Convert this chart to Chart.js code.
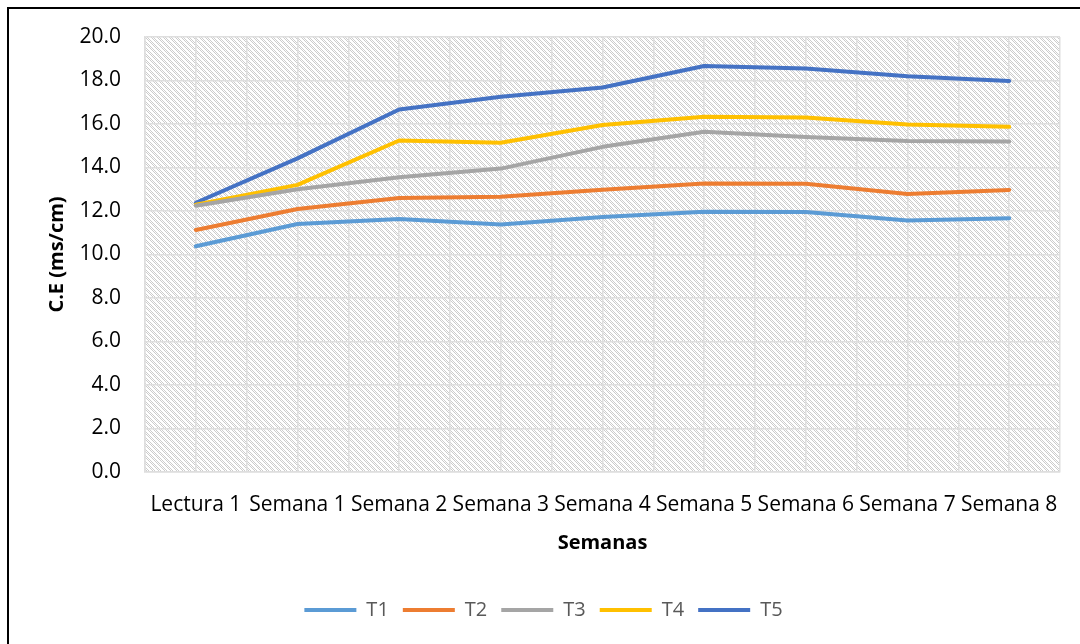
<!DOCTYPE html>
<html>
<head>
<meta charset="utf-8">
<script src="https://cdn.jsdelivr.net/npm/chart.js@4"></script>
<style>
  html, body { margin: 0; padding: 0; background: #ffffff; }
  #frame { position: absolute; left: 7px; top: 7px; width: 1200px; height: 800px; border: 2px solid #000; box-sizing: border-box; }
  #wrap { position: absolute; left: 0; top: 0; width: 1080px; height: 644px; }
</style>
</head>
<body>
<div id="frame"></div>
<div id="wrap"><canvas id="c" width="1080" height="644"></canvas></div>
<script>
const categories = ['Lectura 1', 'Semana 1', 'Semana 2', 'Semana 3', 'Semana 4', 'Semana 5', 'Semana 6', 'Semana 7', 'Semana 8'];
const seriesNames = ['T1', 'T2', 'T3', 'T4', 'T5'];
const t1 = [10.38, 11.40, 11.63, 11.38, 11.72, 11.96, 11.95, 11.56, 11.67];
const t2 = [11.13, 12.09, 12.60, 12.66, 12.98, 13.26, 13.25, 12.78, 12.97];
const t3 = [12.24, 13.00, 13.55, 13.95, 14.95, 15.64, 15.40, 15.22, 15.19];
const t4 = [12.29, 13.20, 15.24, 15.14, 15.95, 16.33, 16.30, 15.98, 15.87];
const t5 = [12.38, 14.42, 16.67, 17.25, 17.68, 18.67, 18.55, 18.19, 17.98];
const yTicks = [0, 2, 4, 6, 8, 10, 12, 14, 16, 18, 20];
const colors = ['#5B9BD5', '#ED7D31', '#A5A5A5', '#FFC000', '#4472C4'];
const allSeries = [t1, t2, t3, t4, t5];

function makePattern(ctx) {
  const tile = document.createElement('canvas');
  tile.width = 6; tile.height = 6;
  const t = tile.getContext('2d');
  t.fillStyle = '#ffffff';
  t.fillRect(0, 0, 6, 6);
  t.fillStyle = '#cccccc';
  for (let y = 0; y < 6; y++) {
    for (let x = 0; x < 6; x++) {
      const d = ((x - y) % 6 + 6) % 6;
      if (d < 3 && (x + y) % 2 === 0) t.fillRect(x, y, 1, 1);
    }
  }
  return ctx.createPattern(tile, 'repeat');
}

const bgPlugin = {
  id: 'bgPattern',
  afterLayout(chart) {
    if (chart.legend) { chart.legend.left += 13; chart.legend.right += 13; }
  },
  beforeDraw(chart) {
    const {ctx, chartArea} = chart;
    ctx.save();
    ctx.fillStyle = makePattern(ctx);
    ctx.fillRect(chartArea.left, chartArea.top, chartArea.right - chartArea.left, chartArea.bottom - chartArea.top);
    ctx.restore();
  }
};

const datasets = allSeries.map((vals, k) => ({
  label: seriesNames[k],
  data: vals.map((v, i) => ({x: i, y: v})),
  borderColor: colors[k],
  backgroundColor: colors[k],
  borderWidth: 4,
  borderCapStyle: 'round',
  borderJoinStyle: 'round',
  pointRadius: 0,
  pointHoverRadius: 0,
  pointStyle: 'line',
  tension: 0,
  fill: false
}));

new Chart(document.getElementById('c'), {
  type: 'line',
  data: { datasets },
  plugins: [bgPlugin],
  options: {
    responsive: false,
    animation: false,
    devicePixelRatio: 1,
    layout: { padding: { top: 37, right: 19, left: 0, bottom: 14 } },
    plugins: {
      tooltip: { enabled: false },
      legend: {
        position: 'bottom',
        labels: {
          usePointStyle: true,
          pointStyleWidth: 52,
          padding: 14,
          color: '#595959',
          font: { family: 'Open Sans', size: 20 }
        }
      }
    },
    scales: {
      x: {
        type: 'linear',
        min: -0.5,
        max: 8.5,
        afterFit(scale) { scale.height = 114; },
        ticks: {
          stepSize: 0.5,
          autoSkip: false,
          maxRotation: 0,
          padding: 20,
          color: '#000000',
          font: { family: 'Open Sans', size: 21 },
          callback: (v) => Number.isInteger(v) && v >= 0 && v < categories.length ? categories[v] : ''
        },
        grid: { color: '#dedede', lineWidth: 1.5, drawTicks: false },
        border: { color: '#dedede', width: 1.5 },
        title: {
          display: true,
          text: 'Semanas',
          color: '#000000',
          font: { family: 'Open Sans', size: 20, weight: 'bold' },
          padding: { top: 0, bottom: 31 }
        }
      },
      y: {
        min: 0,
        max: 20,
        afterFit(scale) { scale.width = 145; },
        afterBuildTicks(scale) { scale.ticks = yTicks.map(v => ({value: v})); },
        ticks: {
          padding: 24,
          color: '#000000',
          font: { family: 'Open Sans', size: 21 },
          callback: (v) => Number(v).toFixed(1)
        },
        grid: { color: '#dedede', lineWidth: 1.5, drawTicks: false },
        border: { color: '#dedede', width: 1.5 },
        title: {
          display: true,
          text: 'C.E (ms/cm)',
          color: '#000000',
          font: { family: 'Open Sans', size: 20, weight: 'bold' },
          padding: { top: 45, bottom: 0 }
        }
      }
    }
  }
});
</script>
</body>
</html>
